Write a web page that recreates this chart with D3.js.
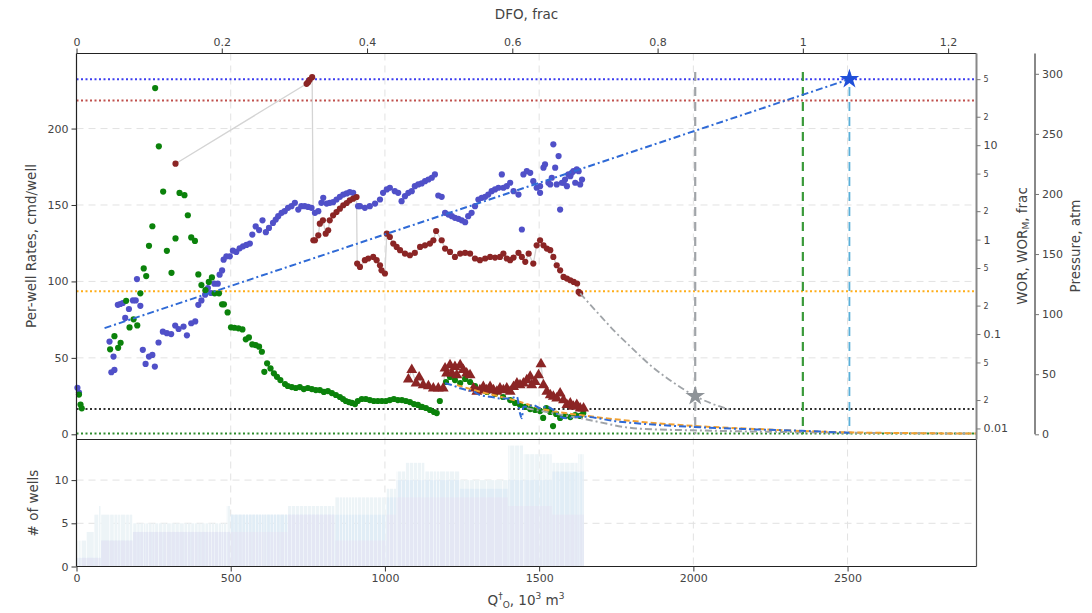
<!DOCTYPE html>
<html><head><meta charset="utf-8">
<script src="https://cdn.jsdelivr.net/npm/d3@7"></script>
<style>
body{margin:0;background:#fff}
svg{display:block}
text{font-family:"DejaVu Sans",Verdana,sans-serif;fill:#444}
</style>
</head><body>
<svg id="chart" width="1092" height="613"></svg>
<script>
// ---- production history: cumulative oil (10^3 m3) vs per-well oil rate (cmd/well)
const oilQ = [8,13,17,109,123,135,143,161,172,185,197,207,218,226,235,246,255,267,281,293,308,321,334,350,361,372,384,395,405,418,429,439,448,462,472,478,490,501,512,525,538,549,559,570,581,592,601,609,618,629,640,650,661,676,685,698,711,724,737,750,763,776,789,802,815,828,841,854,864,873,883,893,903,912,925,938,951,964,977,990,1003,1016,1029,1042,1055,1068,1081,1094,1107,1120,1133,1146,1159,1168,1178,1198,1211,1227,1244,1260,1276,1292,1308,1331,1357,1383,1406,1422,1438,1455,1471,1487,1503,1513,1523,1536,1545,1555,1568,1584,1601,1617,1633,1643];
const oilRate = [26,19.5,17,55.6,64.2,56.6,59.9,87.3,69.9,75.2,71.2,92.2,108.5,103.5,123.3,136.1,226.5,188.4,158.8,120,105.6,128.1,157.9,156.4,143.3,128.8,126.5,104.6,97.6,94.3,99.7,102.6,92.2,92.2,85,85,79.7,70,69.7,69.3,68.6,62.1,63.4,58.8,58.4,57.3,54,40.9,46.4,43.1,39.9,37.6,35.5,32.9,31.6,30.9,30.3,30.9,29.6,30.3,29.6,28.9,28.9,27.7,28.3,27,25.7,24.4,23.1,21.8,21.1,20.5,19.8,21.8,23.1,23.1,22.4,21.8,21.8,21.8,21.8,22.4,23.1,22.4,22.4,21.8,21.1,19.8,19.2,17.9,17.2,15.9,14.6,13.9,21.8,34.2,37.5,35.5,33.5,36.2,34.2,31.6,29,27.7,26.4,24.4,22.4,20.5,19.2,17.9,16.5,15.9,15.2,10.7,17.2,14.6,5.4,13.3,10.7,12,11.3,12.6,12,13.9];

// ---- water-oil ratio history (frac)
const worQ = [3,8,107,113,120,123,134,142,150,158,170,183,192,196,207,215,224,235,246,254,266,280,293,307,320,331,347,358,372,385,395,405,417,426,436,447,458,464,472,477,486,497,507,518,529,540,551,562,570,581,592,603,614,624,637,646,654,665,675,686,697,708,719,729,740,751,762,773,784,794,800,811,821,832,843,854,865,876,886,897,913,919,935,951,968,984,994,1006,1016,1032,1043,1054,1065,1076,1087,1097,1108,1119,1130,1141,1152,1162,1173,1184,1195,1206,1217,1227,1238,1249,1260,1270,1281,1292,1303,1314,1325,1335,1346,1357,1368,1379,1384,1395,1406,1417,1433,1444,1449,1460,1471,1481,1492,1503,1503,1514,1519,1530,1536,1541,1546,1552,1557,1563,1568,1574,1579,1584,1590,1595,1601,1606,1611,1617,1622,1628,1633,1639];
const worVal = [0.027,0.024,0.0832,0.0394,0.0577,0.0417,0.204,0.208,0.213,0.148,0.184,0.227,0.227,0.382,0.199,0.068,0.0483,0.0577,0.0601,0.0452,0.0813,0.106,0.102,0.100,0.123,0.113,0.120,0.097,0.130,0.136,0.204,0.227,0.261,0.307,0.272,0.341,0.341,0.425,0.472,0.613,0.665,0.665,0.764,0.740,0.809,0.849,0.879,0.907,1.13,1.38,1.26,1.60,1.20,1.33,1.50,1.63,1.77,1.92,2.00,2.17,2.26,2.45,2.08,2.26,2.26,2.22,2.17,1.92,2.00,2.45,2.77,2.41,2.45,2.49,2.66,2.84,3.00,3.08,3.18,3.13,2.26,2.26,2.17,2.26,2.41,2.66,3.13,3.40,3.54,3.26,3.13,2.55,2.88,3.13,3.26,3.68,3.84,3.93,4.16,4.33,4.52,4.90,2.93,2.84,1.92,1.84,1.77,1.70,1.66,1.60,1.53,1.77,1.92,2.26,2.66,2.77,2.84,3.00,3.26,3.40,3.54,4.90,3.54,3.68,4.00,3.26,3.00,1.28,4.90,5.31,5.10,4.16,3.54,3.68,3.13,5.77,6.25,4.00,3.84,4.52,10.2,5.77,3.84,7.66,2.08,4.00,4.00,4.33,3.68,4.90,4.70,5.10,5.31,4.00,5.53,5.31,3.84,4.33];

// ---- reservoir pressure history (atm)
const presQ = [321,746,751,756,764,768,773,784,789,799,808,816,821,832,843,854,865,876,886,897,908,910,919,935,946,962,973,984,989,1000,1006,1016,1027,1038,1049,1065,1081,1097,1114,1130,1146,1157,1166,1184,1195,1211,1227,1244,1260,1276,1292,1308,1325,1341,1357,1373,1384,1395,1406,1417,1433,1444,1455,1466,1481,1492,1503,1514,1525,1536,1546,1557,1568,1579,1590,1601,1612,1623,1628,1633];
const presVal = [225.2,291.7,293,295,297.2,161.5,161.5,165.6,175.3,178.1,167,169.8,178.1,182.2,185,187.8,190.6,192.5,194.7,196.1,197.5,142.1,139.3,144.9,146.3,147.6,144.9,140.7,136.5,133.8,167,164.2,158.7,155.9,153.2,150.4,149,150.9,155.9,157.3,158.7,161.5,169.2,161.5,154.6,151.8,147.6,150.4,150.9,150.4,146.3,144.9,146.3,147.6,147.1,147.6,150.4,146.3,144.9,147.1,150.9,147.6,143.5,150.4,142.1,157.3,161.5,157.3,154.6,153.2,147.6,140.7,136.5,131,129.6,128.2,126.8,125.5,118.5,117.2];

// ---- per-well liquid rate (cmd/well)
const liqQ = [1076,1087,1101,1111,1124,1141,1157,1173,1189,1195,1200,1211,1217,1227,1233,1244,1254,1265,1276,1287,1298,1308,1319,1330,1341,1352,1363,1373,1384,1395,1406,1417,1428,1438,1449,1460,1471,1476,1487,1498,1506,1514,1525,1536,1546,1557,1568,1579,1590,1601,1611,1622,1633,1644];
const liqRate = [36,42.1,33.4,37.3,32.2,31.6,30.1,30.1,30.1,43.2,39.9,45.3,39.9,44.2,38.8,45.3,42.1,39.9,38.8,30.1,27.9,29,31.1,29,31.1,29,27.9,30.1,29,30.1,27.9,31.1,33.4,32.2,33.4,35.5,37.7,32.2,34.4,38.8,46,32.2,27.9,25.7,24.6,23.5,26.8,22.4,19.2,20.3,18.1,19.2,17,17];

// ---- model oil rate: history match + forecast (cmd/well)
const modelQ = [1195,1217,1244,1265,1287,1308,1341,1373,1406,1428,1438,1444,1449,1460,1481,1503,1525,1546,1568,1590,1622,1644,1750,1860,2000,2200,2350,2506];
const modelRate = [33.4,32.2,30.1,29,27.9,25.7,24.6,23.5,23.5,24.6,13.7,10.5,18.1,18.1,19.2,17,18.1,15.9,11.5,10.5,11.5,11.5,8.5,6.5,4.8,3.2,2.3,1.0];
// alternative decline forecasts (cmd/well)
const declAQ = [1233,1308,1417,1525,1633,1828,2000,2200,2500,2918];
const declARate = [32.2,27.9,22.4,15.9,12.6,8.2,5.5,3.5,1.3,0.5];
const declBQ = [1460,1633,1828,2000,2200,2500,2918];
const declBRate = [17,10.5,3.6,2.6,1.8,1.0,0.5];

// ---- pressure forecast (atm)
const presFcQ = [1633,1690,1741,1800,1860,1930,2006,2060,2120];
const presFcVal = [117.2,101,86.7,72,57.6,44,31.8,25.5,20.5];

// ---- WOR trend (frac), straight on the log axis
const worTrendQ = [91, 2506];
const worTrendVal = [0.1155, 50];

// ---- limits
const worLimit = 50;        // blue dotted
const presInitial = 277.8;  // red dotted
const presBubble = 119;     // orange dotted
const rateEconomic = 16.5;  // black dotted
const rateMinimum = 0.5;    // green dotted

// ---- vertical markers: forecast end, DFO = 1, EUR at WOR limit
const markerQ = [2006, 2355, 2506];
const markerTop = 237;
const eurQ = 2506;
const presEndQ = 2006, presEndVal = 31.8;

// ---- well count steps
const wellEdgeQ = [0,3,33,58,73,80,183,487,500,686,838,1006,1038,1068,1130,1243,1400,1450,1543,1627,1645];
const wellsTotal = [1,3,4,6,7,6,5,7,6,7,8,9,11,12,11,10,14,13,12,13];
const wellsMid   = [1,1,1,1,1,3,4,4,6,6,6,8,10,10,10,9,10,10,11,11];
const wellsLow   = [1,1,1,1,1,3,4,4,4,6,3,6,8,8,8,8,7,7,6,6];

// ---- axis ticks
const qTicks = [0,500,1000,1500,2000,2500];
const dfoTicks = [0,0.2,0.4,0.6,0.8,1,1.2];
const rateTicks = [0,50,100,150,200];
const worTicks = [0.01,0.02,0.05,0.1,0.2,0.5,1,2,5,10,20,50];
const presTicks = [0,50,100,150,200,250,300];
const wellTicks = [0,5,10];

const X_MAX = 2918, DFO_BASE = 2355;
const L = 76.5, R = 976.5, T = 53.5, MB = 439.5, LB = 566.5;

const svg = d3.select("#chart");

const x = d3.scaleLinear().domain([0, X_MAX]).range([L, R]);
const xDfo = d3.scaleLinear().domain([0, X_MAX / DFO_BASE]).range([L, R]);
const yRate = d3.scaleLinear().domain([-3.4, 249.1]).range([MB, T]);
const yPres = d3.scaleLinear().domain([0, 316.9]).range([434.3, T]);
const yWor = d3.scaleLog().domain([0.00764, 93.5]).range([MB, T]);
const yWell = d3.scaleLinear().domain([0, 14.7]).range([LB, MB]);

const grid = svg.append("g").attr("stroke", "#e2e2e2").attr("stroke-dasharray", "7,5").attr("stroke-width", 1);
qTicks.filter(d => d > 0).forEach(d => {
  grid.append("line").attr("x1", x(d)).attr("x2", x(d)).attr("y1", T).attr("y2", LB);
});
rateTicks.filter(d => d > 0).forEach(d => {
  grid.append("line").attr("x1", L).attr("x2", R).attr("y1", yRate(d)).attr("y2", yRate(d));
});
wellTicks.filter(d => d > 0).forEach(d => {
  grid.append("line").attr("x1", L).attr("x2", R).attr("y1", yWell(d)).attr("y2", yWell(d));
});

// ---- well-count bars, one per production record
const stepAt = (arr, q) => {
  const i = Math.max(0, Math.min(arr.length - 1, d3.bisectRight(wellEdgeQ, q) - 1));
  return arr[i];
};
const barEdges = Array.from(new Set([...wellEdgeQ, ...oilQ])).sort((a, b) => a - b);
const bars = [];
for (let i = 0; i < barEdges.length - 1; i++) {
  const q0 = barEdges[i], q1 = barEdges[i + 1];
  bars.push({q0, q1, mid: (q0 + q1) / 2});
}
const wellLayers = [
  {arr: wellsTotal, color: "#edf4f7"},
  {arr: wellsMid, color: "#e1edf6"},
  {arr: wellsLow, color: "#e4e7f4"}
];
const barG = svg.append("g");
wellLayers.forEach(layer => {
  barG.selectAll(null).data(bars).join("rect")
    .attr("x", d => x(d.q0))
    .attr("width", d => Math.max(0.6, x(d.q1) - x(d.q0) - 0.7))
    .attr("y", d => yWell(stepAt(layer.arr, d.mid)))
    .attr("height", d => yWell(0) - yWell(stepAt(layer.arr, d.mid)))
    .attr("fill", layer.color);
});

// ---- horizontal limits
const hline = (y, color, w) => svg.append("line").attr("x1", L).attr("x2", R)
  .attr("y1", y).attr("y2", y).attr("stroke", color).attr("stroke-width", w)
  .attr("stroke-dasharray", "2,2.5");
hline(yWor(worLimit), "#3d3df0", 2);
hline(yPres(presInitial), "#c0504d", 2);
hline(yPres(presBubble), "#ffae1a", 2);
hline(yRate(rateEconomic), "#333", 2);
hline(yRate(rateMinimum), "#2e8b2e", 2);

// ---- vertical markers
const markerColors = ["#a0a4a8", "#3a9a3a", "#5aafd8"];
markerQ.forEach((q, i) => {
  svg.append("line").attr("x1", x(q)).attr("x2", x(q))
    .attr("y1", yRate(markerTop)).attr("y2", yRate(0))
    .attr("stroke", markerColors[i]).attr("stroke-width", i === 2 ? 1.8 : 2.2)
    .attr("stroke-dasharray", "9,6");
});

// ---- connecting lines of history
const lineGen = (ys, xs, yScale) => d3.line().x((d, i) => x(xs[i])).y((d, i) => yScale(ys[i]));
svg.append("path").datum(presVal).attr("d", lineGen(presVal, presQ, yPres))
  .attr("fill", "none").attr("stroke", "#d4d4d4").attr("stroke-width", 1.3);
svg.append("path").datum(liqRate).attr("d", lineGen(liqRate, liqQ, yRate))
  .attr("fill", "none").attr("stroke", "#d4d4d4").attr("stroke-width", 1.2);

// ---- points
const dot = (qs, vs, yScale, color) => svg.append("g").selectAll("circle").data(qs).join("circle")
  .attr("cx", d => x(d)).attr("cy", (d, i) => yScale(vs[i])).attr("r", 3.1).attr("fill", color);
dot(worQ, worVal, yWor, "#5050c8");
dot(oilQ, oilRate, yRate, "#0b820b");
dot(presQ, presVal, yPres, "#8b2525");
svg.append("g").selectAll("path").data(liqQ).join("path")
  .attr("transform", (d, i) => `translate(${x(d)},${yRate(liqRate[i])})`)
  .attr("d", d3.symbol(d3.symbolTriangle, 52)).attr("fill", "#8b2525");

// ---- trends and forecasts
const curve = (qs, vs, yScale, color, dash, w) => svg.append("path").datum(qs)
  .attr("d", d3.line().curve(d3.curveMonotoneX).x(d => x(d)).y((d, i) => yScale(vs[i])))
  .attr("fill", "none").attr("stroke", color).attr("stroke-width", w).attr("stroke-dasharray", dash);
curve(declBQ, declBRate, yRate, "#a0a4a8", "7,3,2,3", 2);
curve(declAQ, declARate, yRate, "#f0a030", "6,3", 2);
curve(modelQ, modelRate, yRate, "#2f6ad6", "7,3,2,3", 2);
curve(presFcQ, presFcVal, yPres, "#a0a4a8", "7,3,2,3", 1.8);
curve(worTrendQ, worTrendVal, yWor, "#2f6ad6", "7,3,2,3", 2);

// ---- end-point stars
svg.append("path").attr("transform", `translate(${x(presEndQ)},${yPres(presEndVal)})`)
  .attr("d", d3.symbol(d3.symbolStar, 120)).attr("fill", "#8e9398");
svg.append("path").attr("transform", `translate(${x(eurQ)},${yWor(worLimit)})`)
  .attr("d", d3.symbol(d3.symbolStar, 120)).attr("fill", "#1f4fd8");

// ---- frame
const frame = svg.append("g").attr("stroke-width", 1.2);
frame.append("line").attr("x1", L).attr("x2", R).attr("y1", T).attr("y2", T).attr("stroke", "#222");
frame.append("line").attr("x1", L).attr("x2", L).attr("y1", T).attr("y2", LB).attr("stroke", "#222");
frame.append("line").attr("x1", L).attr("x2", R).attr("y1", MB).attr("y2", MB).attr("stroke", "#222");
frame.append("line").attr("x1", L).attr("x2", R).attr("y1", LB).attr("y2", LB).attr("stroke", "#222");
frame.append("line").attr("x1", R).attr("x2", R).attr("y1", MB).attr("y2", LB).attr("stroke", "#555");
svg.append("line").attr("x1", R).attr("x2", R).attr("y1", T).attr("y2", MB).attr("stroke", "#888").attr("stroke-width", 2);
svg.append("line").attr("x1", 1035).attr("x2", 1035).attr("y1", T).attr("y2", yPres(0)).attr("stroke", "#888").attr("stroke-width", 2);

// ---- axes
const styleAxis = (g, size) => {
  g.select(".domain").remove();
  g.selectAll(".tick line").attr("stroke", "#333");
  g.selectAll(".tick text").style("font-size", size + "px").attr("fill", "#444");
};
const isDecade = d => Number.isInteger(Math.round(Math.log10(d) * 1000) / 1000);
svg.append("g").attr("transform", `translate(0,${T})`)
  .call(d3.axisTop(xDfo).tickValues(dfoTicks).tickFormat(d3.format("~g")).tickSize(5).tickPadding(3))
  .call(g => styleAxis(g, 11));
svg.append("g").attr("transform", `translate(0,${LB})`)
  .call(d3.axisBottom(x).tickValues(qTicks).tickFormat(d3.format("d")).tickSize(5).tickPadding(3))
  .call(g => styleAxis(g, 11));
svg.append("g").attr("transform", `translate(${L},0)`)
  .call(d3.axisLeft(yRate).tickValues(rateTicks).tickSize(5).tickPadding(3))
  .call(g => styleAxis(g, 11));
svg.append("g").attr("transform", `translate(${L},0)`)
  .call(d3.axisLeft(yWell).tickValues(wellTicks).tickSize(5).tickPadding(3))
  .call(g => styleAxis(g, 11));
svg.append("g").attr("transform", `translate(${R},0)`)
  .call(d3.axisRight(yWor).tickValues(worTicks).tickSize(4).tickPadding(3)
    .tickFormat(d => isDecade(d) ? d3.format("~g")(d) : String(d).replace(/^0\.0*/, "")[0]))
  .call(g => {
    styleAxis(g, 11);
    g.selectAll(".tick line").attr("stroke", "#777");
    g.selectAll(".tick text").filter(d => !isDecade(d))
      .style("font-size", "8px").attr("fill", "#555");
  });
svg.append("g").attr("transform", "translate(1035,0)")
  .call(d3.axisRight(yPres).tickValues(presTicks).tickSize(4).tickPadding(3))
  .call(g => { styleAxis(g, 11); g.selectAll(".tick line").attr("stroke", "#777"); });

// ---- titles
const title = (txt, tx, ty, rot) => svg.append("text")
  .attr("transform", `translate(${tx},${ty}) rotate(${rot})`)
  .attr("text-anchor", "middle").attr("dominant-baseline", "central")
  .style("font-size", "13.5px").attr("fill", "#333").text(txt);
title("DFO, frac", 526.5, 14, 0);
title("Per-well Rates, cmd/well", 31, 246, -90);
title("# of wells", 33, 503, -90);
title("Pressure, atm", 1075, 246, -90);
const worTitle = svg.append("text").attr("transform", "translate(1022,246) rotate(-90)")
  .attr("text-anchor", "middle").attr("dominant-baseline", "central")
  .style("font-size", "13.5px").attr("fill", "#333");
worTitle.append("tspan").text("WOR, WOR");
worTitle.append("tspan").attr("dy", 4).style("font-size", "9px").text("M");
worTitle.append("tspan").attr("dy", -4).text(", frac");
const qTitle = svg.append("text").attr("x", 526).attr("y", 605)
  .attr("text-anchor", "middle").style("font-size", "13.5px").attr("fill", "#333");
qTitle.append("tspan").text("Q");
qTitle.append("tspan").attr("dy", -6).style("font-size", "9px").text("†");
qTitle.append("tspan").attr("dy", 9).style("font-size", "9px").text("O");
qTitle.append("tspan").attr("dy", -3).text(", 10");
qTitle.append("tspan").attr("dy", -6).style("font-size", "9px").text("3");
qTitle.append("tspan").attr("dy", 6).text(" m");
qTitle.append("tspan").attr("dy", -6).style("font-size", "9px").text("3");
</script>
</body></html>
